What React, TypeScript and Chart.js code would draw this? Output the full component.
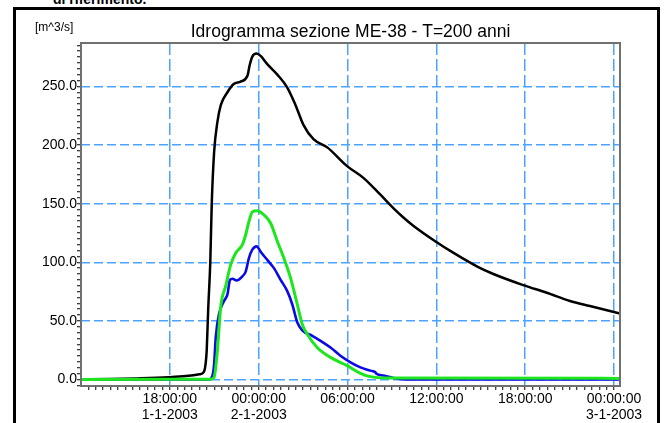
import React, { useEffect, useRef } from 'react';
import { Chart, registerables } from 'chart.js';

Chart.register(...registerables);

// ---- data (hours from 1-1-2003 00:00, discharge m^3/s) ----
const blackHours = [12.0, 14.0, 15.8, 17.9, 19.1, 20.0, 20.3, 20.43, 20.49, 20.59, 20.73, 20.83, 20.99, 21.21, 21.44, 21.89, 22.31, 22.78, 23.24, 23.39, 23.57, 23.86, 24.13, 24.58, 25.26, 25.93, 26.49, 27.03, 27.7, 28.63, 29.97, 31.07, 32.22, 33.11, 33.79, 34.46, 35.92, 37.16, 38.73, 39.85, 41.87, 43.45, 45.02, 46.37, 48.4];
const blackValues = [0.2, 0.4, 1.0, 2.0, 3.0, 4.5, 6.5, 15, 25, 60, 100, 150, 194, 219.5, 234, 245, 252, 254, 259, 268, 275.4, 278, 276, 269, 260, 249, 234, 217, 205, 198, 182, 172, 157.6, 146, 138, 131, 118, 108, 96.6, 90, 80.5, 74, 67, 62.7, 56.3];

const blueHours = [12.0, 20.65, 20.88, 20.99, 21.1, 21.32, 21.66, 21.89, 22.06, 22.23, 22.51, 22.9, 23.12, 23.34, 23.57, 23.86, 24.13, 24.58, 25.03, 25.48, 25.93, 26.27, 26.61, 26.94, 27.62, 28.18, 28.85, 29.52, 30.2, 30.87, 31.54, 31.88, 31.95, 32.44, 33.11, 34.02, 48.4];
const blueValues = [0, 0, 3.4, 13, 36, 55.7, 67, 72.6, 85, 86, 84.5, 88, 92, 103.6, 110.8, 113.6, 109, 102, 95, 85, 75.4, 64, 48.6, 42, 37.3, 33, 27.4, 20.3, 14.7, 10.4, 7.6, 6.2, 5.0, 3.4, 1.4, 0, 0];

const greenHours = [12.0, 20.76, 20.99, 21.21, 21.44, 21.77, 22.11, 22.45, 22.9, 23.12, 23.34, 23.57, 23.91, 24.35, 24.81, 25.26, 25.7, 26.15, 26.61, 26.94, 27.28, 27.95, 28.85, 29.97, 30.87, 31.54, 32.67, 48.4];
const greenValues = [0, 0.3, 2, 24.6, 62.7, 79.7, 98, 108, 115, 123.5, 134.7, 143, 144, 140.4, 133.3, 117.8, 103.6, 86.7, 64, 47.2, 38.7, 27.4, 18.9, 11.9, 5.3, 2.5, 1.4, 1.0];

// ---- axis labels ----
const xLabelHours = [18, 24, 30, 36, 42, 48];
const xLabelTimes = ['18:00:00', '00:00:00', '06:00:00', '12:00:00', '18:00:00', '00:00:00'];
const xLabelDates = ['1-1-2003', '2-1-2003', '', '', '', '3-1-2003'];
const yLabelValues = [0, 50, 100, 150, 200, 250];

const titleText = 'Idrogramma sezione ME-38 - T=200 anni';
const unitText = '[m^3/s]';
const headText = 'di riferimento.';

const X_MIN = 12;
const X_MAX = 48.4;
const Y_MIN = -5.5;
const Y_MAX = 287;

const GRID_BLUE = '#4da3ff';
const FONT = "'Liberation Sans', Arial, Helvetica, sans-serif";

function toPoints(xs: number[], ys: number[]) {
  return xs.map((x, i) => ({ x, y: ys[i] }));
}

const frameBorderPlugin = {
  id: 'frameBorder',
  afterDatasetsDraw(chart: any) {
    const { ctx, chartArea } = chart;
    ctx.save();
    ctx.strokeStyle = '#707070';
    ctx.lineWidth = 2;
    ctx.strokeRect(chartArea.left, chartArea.top, chartArea.right - chartArea.left, chartArea.bottom - chartArea.top);
    ctx.restore();
  },
};

export default function App() {
  const canvasRef = useRef<HTMLCanvasElement | null>(null);

  useEffect(() => {
    if (!canvasRef.current) return;
    Chart.defaults.font.family = FONT;
    const chart = new Chart(canvasRef.current, {
      type: 'line',
      data: {
        datasets: [
          {
            label: 'green',
            data: toPoints(greenHours, greenValues),
            borderColor: '#1ee61e',
            borderWidth: 3,
            pointRadius: 0,
            cubicInterpolationMode: 'monotone',
            fill: false,
          },
          {
            label: 'blue',
            data: toPoints(blueHours, blueValues),
            borderColor: '#0a0ae6',
            borderWidth: 2.6,
            pointRadius: 0,
            cubicInterpolationMode: 'monotone',
            fill: false,
          },
          {
            label: 'black',
            data: toPoints(blackHours, blackValues),
            borderColor: '#000000',
            borderWidth: 2.5,
            pointRadius: 0,
            cubicInterpolationMode: 'monotone',
            fill: false,
          },
        ],
      },
      options: {
        responsive: false,
        maintainAspectRatio: false,
        animation: false,
        devicePixelRatio: 1,
        layout: { padding: { left: 31, right: 46, top: 12, bottom: 0 } },
        plugins: {
          legend: { display: false },
          tooltip: { enabled: false },
          title: {
            display: true,
            text: titleText,
            fullSize: false,
            color: '#000',
            font: { family: FONT, size: 17.5, weight: 'normal', lineHeight: 1.2 },
            padding: { top: 10, bottom: 0 },
          },
        },
        scales: {
          x: {
            type: 'linear',
            min: X_MIN,
            max: X_MAX,
            afterBuildTicks: (scale: any) => {
              const t: any[] = [];
              for (let h = X_MIN + 0.5; h <= X_MAX; h += 0.5) t.push({ value: h });
              scale.ticks = t;
            },
            afterFit: (scale: any) => {
              scale.height = 37;
            },
            ticks: {
              autoSkip: false,
              maxRotation: 0,
              padding: 1,
              color: '#000',
              font: { family: FONT, size: 14, lineHeight: 1.15 },
              callback: (value: any) => {
                const v = Number(value);
                const i = xLabelHours.findIndex((h) => Math.abs(h - v) < 1e-6);
                if (i < 0) return '';
                return xLabelDates[i] ? [xLabelTimes[i], xLabelDates[i]] : xLabelTimes[i];
              },
            },
            grid: {
              color: (ctx: any) => {
                const v = ctx.tick ? ctx.tick.value : NaN;
                return xLabelHours.some((h) => Math.abs(h - v) < 1e-6) ? GRID_BLUE : 'rgba(0,0,0,0)';
              },
              lineWidth: 1.5,
              tickColor: '#000',
              tickLength: 4,
              tickWidth: 1,
            },
            border: { display: false, dash: [12, 4] },
          },
          y: {
            type: 'linear',
            min: Y_MIN,
            max: Y_MAX,
            afterBuildTicks: (scale: any) => {
              const t: any[] = [];
              for (let v = -5; v <= Y_MAX; v += 5) t.push({ value: v });
              scale.ticks = t;
            },
            afterFit: (scale: any) => {
              scale.width = 50;
            },
            ticks: {
              autoSkip: false,
              padding: 0,
              color: '#000',
              font: { family: FONT, size: 14 },
              callback: (value: any) => {
                const v = Number(value);
                return yLabelValues.includes(v) ? v.toFixed(1) : '';
              },
            },
            grid: {
              color: (ctx: any) => {
                const v = ctx.tick ? ctx.tick.value : NaN;
                return yLabelValues.includes(v) ? GRID_BLUE : 'rgba(0,0,0,0)';
              },
              lineWidth: 1.5,
              tickColor: '#000',
              tickLength: 4,
              tickWidth: 1,
            },
            border: { display: false, dash: [9, 4] },
          },
        },
      } as any,
      plugins: [frameBorderPlugin],
    });
    return () => chart.destroy();
  }, []);

  return (
    <div style={{ position: 'fixed', left: 0, top: 0, width: 666, height: 423, overflow: 'hidden', background: '#fff' }}>
      <div
        style={{
          position: 'absolute',
          left: 53,
          top: -9,
          fontFamily: FONT,
          fontWeight: 'bold',
          fontSize: 14,
          lineHeight: '16px',
          color: '#000',
          whiteSpace: 'nowrap',
        }}
      >
        {headText}
      </div>
      <div
        style={{
          position: 'absolute',
          left: 13,
          top: 7,
          width: 647,
          height: 480,
          boxSizing: 'border-box',
          borderLeft: '3px solid #000',
          borderTop: '3px solid #000',
          borderRight: '3px solid #000',
        }}
      />
      <canvas ref={canvasRef} width={666} height={423} style={{ position: 'absolute', left: 0, top: 0, width: 666, height: 423 }} />
      <div
        style={{
          position: 'absolute',
          left: 35,
          top: 20,
          fontFamily: FONT,
          fontSize: 12,
          lineHeight: '14px',
          color: '#000',
          whiteSpace: 'nowrap',
        }}
      >
        {unitText}
      </div>
    </div>
  );
}
